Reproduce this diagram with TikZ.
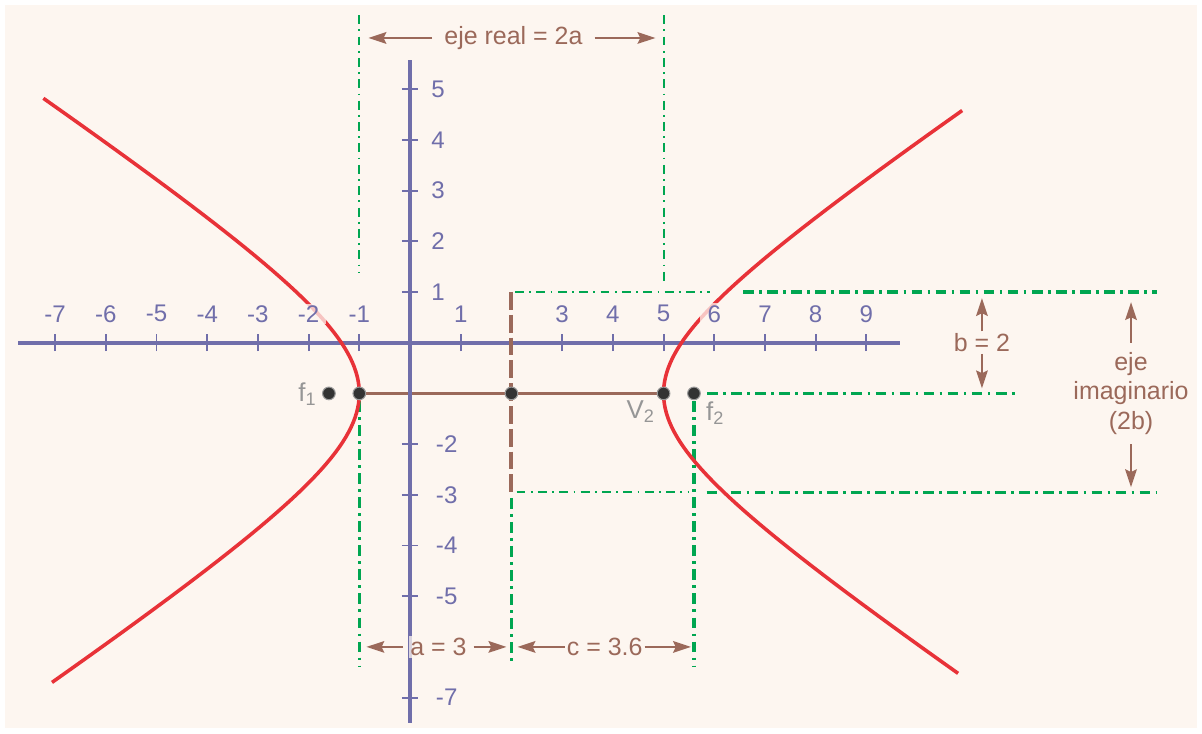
\documentclass[tikz,border=0pt]{standalone}
\usepackage{fontspec}
\setmainfont{Liberation Sans}
\usetikzlibrary{arrows.meta, positioning}
\definecolor{FondoCrema}{RGB}{253,246,240}
\definecolor{EjeAzul}{RGB}{112,110,170}
\definecolor{CurvaRoja}{RGB}{232,50,56}
\definecolor{CotaCafe}{RGB}{155,105,90}
\definecolor{GuiaVerde}{RGB}{0,166,81}
\definecolor{PuntoGris}{RGB}{51,51,51}
\definecolor{TextoGris}{RGB}{150,150,150}
\tikzset{
  eje/.style={draw=EjeAzul, line width=2.3pt},
  marca/.style={draw=EjeAzul, line width=1.1pt},
  num/.style={text=EjeAzul, font=\fontsize{13.5}{15}\selectfont, inner sep=1pt},
  curva/.style={draw=CurvaRoja, line width=2pt},
  guia/.style={draw=GuiaVerde, line width=1.2pt,
    dash pattern=on 5pt off 3pt on 1pt off 3pt},
  guiag/.style={draw=GuiaVerde, line width=1.8pt,
    dash pattern=on 6pt off 3pt on 1.5pt off 3pt},
  semi/.style={draw=CotaCafe, line width=1.8pt},
  semid/.style={draw=CotaCafe, line width=2.2pt, dash pattern=on 10pt off 2.8pt},
  cota/.style={-{Stealth[length=10pt, width=6.5pt, inset=1.5pt]}, draw=CotaCafe,
    line width=1.2pt},
  rot/.style={text=CotaCafe, font=\fontsize{14}{16.5}\selectfont, inner sep=1pt},
  tapa/.style={fill=FondoCrema, fill opacity=0.75, text opacity=1},
  punto/.style={circle, minimum size=0.25cm, inner sep=0pt,
    fill=PuntoGris, draw=gray!80, line width=0.6pt},
  etq/.style={text=TextoGris, font=\fontsize{14.5}{16}\selectfont, inner sep=1pt}
}
\begin{document}
\begin{tikzpicture}
  \useasboundingbox (-8.087,-7.70) rectangle (15.62,6.759);
  \fill[white] (-8.087,-7.70) rectangle (15.62,6.759);
  \fill[FondoCrema] (-7.99,-7.60) rectangle (15.52,6.66);

  % guias verdes
  \draw[guia] (-1.01,6.46) -- (-1.01,1.38);
  \draw[guia] (5.01,6.46) -- (5.01,1.17);
  \draw[guia] (2.07,1) -- (5.92,1);
  \draw[guiag] (6.57,1) -- (14.73,1);
  \draw[guiag] (5.86,-1) -- (11.95,-1);
  \draw[guia] (2.1,-2.95) -- (5.5,-2.95);
  \draw[guiag] (5.85,-2.95) -- (14.73,-2.95);
  \draw[guiag] (-1,-1.15) -- (-1,-6.38);
  \draw[guiag] (2,-3.06) -- (2,-6.3);
  \draw[guiag] (5.6,-1.15) -- (5.6,-6.38);

  % semiejes
  \draw[semi] (-1,-1) -- (5,-1);

  % ejes
  \draw[eje] (-7.73,0) -- (9.66,0);
  \draw[eje] (0,5.57) -- (0,-7.51);
  \foreach \x in {-7,...,-1,1,3,4,...,9}
    \draw[marca] (\x,-0.165) -- (\x,0.165);
  \foreach \y in {-7,-5,-4,-3,-2,1,2,...,5}
    \draw[marca] (-0.16,\y) -- (0.16,\y);
  \draw[semid] (2,1) -- (2,-2.95);

  % hiperbola
  \draw[curva] plot[domain=-1.77:1.79, samples=80]
    ({2-3*cosh(\x)},{-1+2*sinh(\x)});
  \draw[curva] plot[domain=-1.74:1.75, samples=80]
    ({2+3*cosh(\x)},{-1+2*sinh(\x)});

  % numeros
  \foreach \x in {-7,...,-1,1,3,4,...,9}
    \node[num, tapa, inner xsep=0.14cm] (nx\x) at (\x,0.57) {\x};
  \foreach \y in {1,2,...,5}
    \node[num, anchor=west] (ny\y) at (0.38,\y) {\y};
  \foreach \y in {-2,-3,-4,-5,-7}
    \node[num, anchor=west] (ny\y) at (0.47,\y) {\y};

  % cotas
  \node[rot] (real) at (2.04,6.01) {eje real = 2a};
  \coordinate (realI) at (-0.82,6.01);
  \coordinate (realD) at (4.84,6.01);
  \draw[cota, shorten <=0.2cm] (real.west) -- (realI);
  \draw[cota, shorten <=0.2cm] (real.east) -- (realD);

  \node[rot, tapa] (sa) at (0.56,-6) {a = 3};
  \coordinate (saI) at (-0.86,-6);
  \coordinate (saD) at (1.9,-6);
  \draw[cota, shorten <=0.1cm] (sa.west) -- (saI);
  \draw[cota, shorten <=0.1cm] (sa.east) -- (saD);

  \node[rot] (sc) at (3.84,-6) {c = 3.6};
  \coordinate (scI) at (2.12,-6);
  \coordinate (scD) at (5.54,-6);
  \draw[cota] (sc.west) -- (scI);
  \draw[cota] (sc.east) -- (scD);

  \node[rot] (sb) at (11.28,0) {b = 2};
  \coordinate (sbA) at (11.28,0.88);
  \coordinate (sbB) at (11.28,-0.9);
  \draw[cota] (sb.north) -- (sbA);
  \draw[cota] (sb.south) -- (sbB);

  \node[rot, align=center] (imag) at (14.22,-1) {eje\\imaginario\\(2b)};
  \coordinate (imagA) at (14.22,0.8);
  \coordinate (imagB) at (14.22,-2.85);
  \draw[cota, shorten <=0.15cm] (imag.north) -- (imagA);
  \draw[cota, shorten <=0.15cm] (imag.south) -- (imagB);

  % puntos
  \node[punto] (f1) at (-1.6,-1) {};
  \node[punto] (v1) at (-1,-1) {};
  \node[punto] (ctr) at (2,-1) {};
  \node[punto] (v2) at (5,-1) {};
  \node[punto] (f2) at (5.6,-1) {};
  \node[etq, anchor=east] (lf1) at (-1.8,-1.02) {f\textsubscript{1}};
  \node[etq, anchor=north east] (lv2) at (4.87,-1.11) {V\textsubscript{2}};
  \node[etq, anchor=north west] (lf2) at (5.8,-1.13) {f\textsubscript{2}};
\end{tikzpicture}
\end{document}
